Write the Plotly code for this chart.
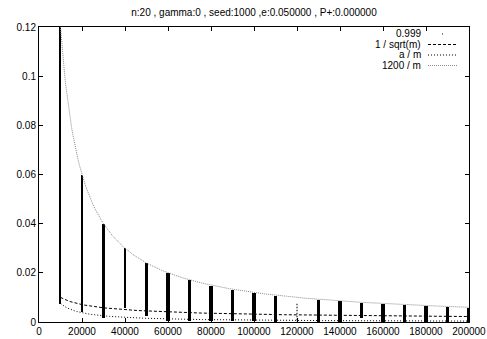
import numpy as np
import plotly.graph_objects as go

# ---- data ----
title_text = "n:20 , gamma:0 , seed:1000 ,e:0.050000 , P+:0.000000"
m_values = [10000, 20000, 30000, 40000, 50000, 60000, 70000, 80000, 90000, 100000,
            110000, 120000, 130000, 140000, 150000, 160000, 170000, 180000, 190000, 200000]
# range of the 0.999 points at each m (min / max)
low_values = [0.0073, 0.0042, 0.0016, 0.0057, 0.0025, 0.0006, 0.0004, 0.0003, 0.0003, 0.0003,
              0.0002, 0.0002, 0.0002, 0.0002, 0.0015, 0.0002, 0.0002, 0.0002, 0.0002, 0.0002]
high_values = [0.12, 0.0598, 0.0399, 0.0301, 0.0240, 0.0198, 0.0171, 0.0148, 0.0130, 0.0118,
               0.0107, 0.0076, 0.0090, 0.0085, 0.0077, 0.0073, 0.0069, 0.0065, 0.0061, 0.0057]
sparse_flags = [False] * 11 + [True] + [False] * 8   # the 120000 column is only scattered dots
bar_widths = [900, 1000, 1100, 1300, 1400, 1500, 1500, 1600, 1600, 1600,
              1600, 700, 1600, 1700, 1500, 1700, 1700, 1700, 1700, 1800]

a_const = 75.0
c_const = 1200.0
m_min, m_max = 10000, 200000

x_ticks = list(range(0, 200001, 20000))
y_ticks = [0, 0.02, 0.04, 0.06, 0.08, 0.1, 0.12]
y_tick_text = ["0", "0.02", "0.04", "0.06", "0.08", "0.1", "0.12"]

legend_labels = ["0.999", "1 / sqrt(m)", "a / m", "1200 / m"]

# ---- figure ----
FONT = "Liberation Sans, Arial, Helvetica, sans-serif"
fig = go.Figure()

heights = [h - l for h, l in zip(high_values, low_values)]
fig.add_trace(go.Bar(
    x=m_values, y=heights, base=low_values, width=bar_widths,
    marker=dict(color="black", line=dict(width=0),
                pattern=dict(shape=["-" if s else "" for s in sparse_flags],
                             fgcolor="black", bgcolor="white", size=3, solidity=0.5)),
    showlegend=False, hoverinfo="skip"))

m_curve = np.linspace(m_min, m_max, 300)
fig.add_trace(go.Scatter(x=m_curve, y=1.0 / np.sqrt(m_curve), mode="lines",
                         line=dict(color="black", width=1, dash="3px,2px"), showlegend=False))
fig.add_trace(go.Scatter(x=m_curve, y=a_const / m_curve, mode="lines",
                         line=dict(color="black", width=1, dash="1px,2px"), showlegend=False))
fig.add_trace(go.Scatter(x=m_curve, y=c_const / m_curve, mode="lines",
                         line=dict(color="#8a8a8a", width=1, dash="1px,1px"), showlegend=False))

# ---- custom gnuplot-style key (text left, sample right) ----
L, R, T, B = 39, 469, 27, 322
def px(xp): return (xp - L) / (R - L)
def py(yp): return (B - yp) / (B - T)

rows_y = [34, 44.5, 55, 65.5]
text_right = 423
s0, s1 = 428, 457
annotations = []
shapes = []
for lab, ry in zip(legend_labels, rows_y):
    annotations.append(dict(xref="paper", yref="paper", x=px(text_right), y=py(ry),
                            text=lab, showarrow=False, xanchor="right", yanchor="middle",
                            font=dict(family=FONT, size=10, color="black")))
styles = [None, ("black", "3px,2px"), ("black", "1px,2px"), ("#8a8a8a", "1px,1px")]
for st, ry in zip(styles, rows_y):
    if st is None:
        cx = (s0 + s1) / 2
        shapes.append(dict(type="rect", xref="paper", yref="paper",
                           x0=px(cx - 0.5), x1=px(cx + 0.5), y0=py(ry + 0.5), y1=py(ry - 0.5),
                           fillcolor="black", line=dict(width=0)))
    else:
        shapes.append(dict(type="line", xref="paper", yref="paper",
                           x0=px(s0), x1=px(s1), y0=py(ry), y1=py(ry),
                           line=dict(color=st[0], width=1, dash=st[1])))

fig.update_layout(
    width=487, height=339,
    margin=dict(l=L, r=487 - R, t=T, b=339 - B),
    paper_bgcolor="white", plot_bgcolor="white",
    font=dict(family=FONT, size=10, color="black"),
    title=dict(text=title_text, x=(254 / 487), xanchor="center", y=1 - 12 / 339, yanchor="middle",
               font=dict(family=FONT, size=10, color="black")),
    bargap=0, barmode="overlay",
    annotations=annotations, shapes=shapes,
    showlegend=False,
)
fig.update_xaxes(range=[0, 200000], tickvals=x_ticks, ticktext=[str(v) for v in x_ticks],
                 ticks="inside", ticklen=4, tickcolor="black", tickwidth=1,
                 showline=True, linecolor="black", linewidth=1, mirror="allticks",
                 showgrid=False, zeroline=False, tickfont=dict(size=10), automargin=False)
fig.update_yaxes(range=[0, 0.12], tickvals=y_ticks, ticktext=y_tick_text,
                 ticks="inside", ticklen=4, tickcolor="black", tickwidth=1,
                 showline=True, linecolor="black", linewidth=1, mirror="allticks",
                 showgrid=False, zeroline=False, tickfont=dict(size=10), automargin=False)

fig.write_html("out.html", config={"displayModeBar": False},
               post_script="document.body.style.margin='0px';")
